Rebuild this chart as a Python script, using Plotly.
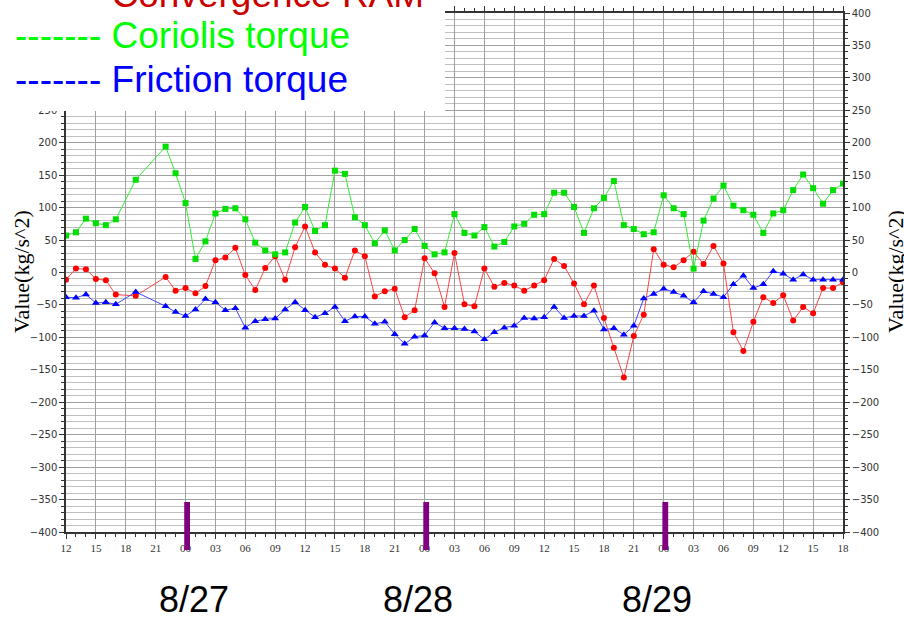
import plotly.graph_objects as go

# ---------------- data ----------------
hours_0826 = [12, 13, 14, 15, 16, 17, 19, 22, 23]
hours_0827 = [0, 1, 2, 3, 4, 5, 6, 7, 8, 9, 10, 11, 12, 13, 14, 15, 16, 17, 18, 19, 20, 21, 22, 23]
hours_0828 = [0, 1, 2, 3, 4, 5, 6, 7, 8, 9, 10, 11, 12, 13, 14, 15, 16, 17, 18, 19, 20, 21, 22, 23]
hours_0829 = [0, 1, 2, 3, 4, 5, 6, 7, 8, 9, 10, 11, 12, 13, 14, 15, 16, 17, 18]

times = ([f"2014-08-26 {h:02d}:00" for h in hours_0826]
         + [f"2014-08-27 {h:02d}:00" for h in hours_0827]
         + [f"2014-08-28 {h:02d}:00" for h in hours_0828]
         + [f"2014-08-29 {h:02d}:00" for h in hours_0829])

convergence_ram = [
    -11, 6, 5, -10, -12, -34, -36, -7, -28,
    -24, -32, -21, 19, 23, 38, -4, -27, 7, 25, -11, 39, 71, 31, 12, 6, -8, 34, 25, -37, -29, -25, -69, -58,
    22, -1, -53, 30, -49, -52, 6, -22, -16, -20, -28, -20, -12, 21, 10, -17, -49, -20, -70, -116, -162, -98, -65, 36,
    12, 8, 19, 32, 13, 41, 14, -92, -121, -76, -38, -47, -35, -74, -53, -63, -24, -24, -15,
]
coriolis_torque = [
    57, 62, 83, 76, 73, 82, 143, 194, 153,
    107, 21, 48, 91, 98, 99, 82, 46, 34, 28, 31, 77, 101, 64, 73, 157, 152, 85, 73, 45, 65, 34, 50, 67,
    41, 28, 31, 90, 61, 57, 70, 40, 47, 71, 75, 89, 90, 123, 123, 101, 61, 99, 115, 141, 73, 67, 59, 62,
    119, 99, 90, 6, 80, 114, 134, 103, 96, 89, 61, 91, 96, 127, 151, 130, 106, 127, 137,
]
friction_torque = [
    -38, -39, -34, -47, -46, -49, -30, -52, -61,
    -67, -57, -41, -46, -58, -55, -85, -75, -72, -71, -57, -46, -58, -69, -63, -53, -75, -68, -68, -79, -76, -95, -110, -99,
    -97, -77, -86, -86, -87, -91, -103, -92, -85, -82, -70, -71, -69, -53, -70, -67, -67, -59, -88, -86, -96, -82, -40, -33,
    -25, -30, -36, -46, -29, -33, -38, -18, -5, -24, -18, 2, -2, -11, -3, -11, -11, -11, -11,
]

legend_labels = ["Convergence RAM", "Coriolis torque", "Friction torque"]
day_labels = ["8/27", "8/28", "8/29"]
day_marks = ["2014-08-27", "2014-08-28", "2014-08-29"]
prev_days = ["2014-08-26", "2014-08-27", "2014-08-28"]
y_title = "Value(kg/s^2)"

# ---------------- layout helpers ----------------
W, H = 904, 627
L, R, T, B = 66, 61, 13, 95
PW, PH = W - L - R, H - T - B


def px_x(px):
    return (px - L) / PW


def px_y(py):
    return (H - B - py) / PH


fig = go.Figure()

fig.add_trace(go.Scatter(
    x=times, y=convergence_ram, mode="lines+markers", name=legend_labels[0],
    line=dict(color="#ff4444", width=1),
    marker=dict(symbol="circle", size=6, color="#ff0000"),
))
fig.add_trace(go.Scatter(
    x=times, y=coriolis_torque, mode="lines+markers", name=legend_labels[1],
    line=dict(color="#33ee33", width=1),
    marker=dict(symbol="square", size=6, color="#00e000"),
))
fig.add_trace(go.Scatter(
    x=times, y=friction_torque, mode="lines+markers", name=legend_labels[2],
    line=dict(color="#4444ff", width=1),
    marker=dict(symbol="triangle-up", size=7, color="#0000ff"),
))
# invisible trace so the right-hand axis is drawn
fig.add_trace(go.Scatter(
    x=times, y=friction_torque, yaxis="y2", mode="lines",
    line=dict(width=0), opacity=0, hoverinfo="skip", showlegend=False,
))

ytick_common = dict(
    range=[-400, 400], dtick=50, tick0=0, automargin=False,
    ticks="outside", ticklen=5, tickcolor="#333",
    showline=True, linecolor="#333", linewidth=1.5,
    zeroline=False,
    tickfont=dict(family="DejaVu Sans", size=10, color="#333"),
)

fig.update_layout(
    width=W, height=H,
    margin=dict(l=L, r=R, t=T, b=B, autoexpand=False),
    paper_bgcolor="white", plot_bgcolor="white",
    showlegend=False,
    xaxis=dict(
        type="date", automargin=False,
        range=["2014-08-26 12:00", "2014-08-29 18:00"],
        tick0="2014-08-26 12:00", dtick=3 * 3600000, tickformat="%H",
        ticks="outside", ticklen=5, tickcolor="#333",
        minor=dict(dtick=3600000, ticks="outside", ticklen=3, tickcolor="#333", showgrid=False),
        showgrid=True, gridcolor="#a0a0a0", gridwidth=1,
        showline=True, linecolor="#333", linewidth=1.5, mirror="ticks",
        tickfont=dict(family="Liberation Serif", size=11, color="#333"),
    ),
    yaxis=dict(
        **ytick_common,
        showgrid=True, gridcolor="#a0a0a0", gridwidth=1,
        minor=dict(dtick=10, ticks="outside", ticklen=3, tickcolor="#333",
                   showgrid=True, gridcolor="#c0c0c0", gridwidth=1),
    ),
    yaxis2=dict(
        **ytick_common,
        overlaying="y", side="right", showgrid=False,
        minor=dict(dtick=10, ticks="outside", ticklen=3, tickcolor="#333", showgrid=False),
    ),
)

shapes = []
# white legend box overlaying the top-left of the chart
shapes.append(dict(type="rect", xref="paper", yref="paper",
                   x0=px_x(-5), x1=px_x(445), y0=px_y(111), y1=px_y(-5),
                   fillcolor="white", line=dict(width=0), layer="above"))
# purple day markers
for d, p in zip(day_marks, prev_days):
    shapes.append(dict(type="rect", xref="x", yref="paper",
                       x0=f"{p} 23:52", x1=f"{d} 00:27",
                       y0=px_y(550), y1=px_y(502),
                       fillcolor="#800080", line=dict(width=0), layer="above"))
fig.update_layout(shapes=shapes)

annotations = []
legend_colors = ["#cc0000", "#00ff00", "#0000ff"]
legend_mid_y = [-6, 35, 79]
for lab, col, my in zip(legend_labels, legend_colors, legend_mid_y):
    annotations.append(dict(
        xref="paper", yref="paper", x=px_x(13), y=px_y(my),
        xanchor="left", yanchor="middle", showarrow=False,
        text="------- " + lab,
        font=dict(family="Liberation Sans", size=37, color=col),
    ))

day_centers = [194, 418, 657]
for lab, cx in zip(day_labels, day_centers):
    annotations.append(dict(
        xref="paper", yref="paper", x=px_x(cx), y=px_y(599),
        xanchor="center", yanchor="middle", showarrow=False,
        text=lab, font=dict(family="Liberation Sans", size=36, color="black"),
    ))

for cx in (21, 895):
    annotations.append(dict(
        xref="paper", yref="paper", x=px_x(cx), y=px_y(272),
        xanchor="center", yanchor="middle", showarrow=False, textangle=-90,
        text=y_title, font=dict(family="Liberation Serif", size=22, color="black"),
    ))

fig.update_layout(annotations=annotations)

fig.write_html(
    "out.html",
    config={"displayModeBar": False},
    post_script="document.body.style.margin='0';document.body.style.overflow='hidden';",
)
